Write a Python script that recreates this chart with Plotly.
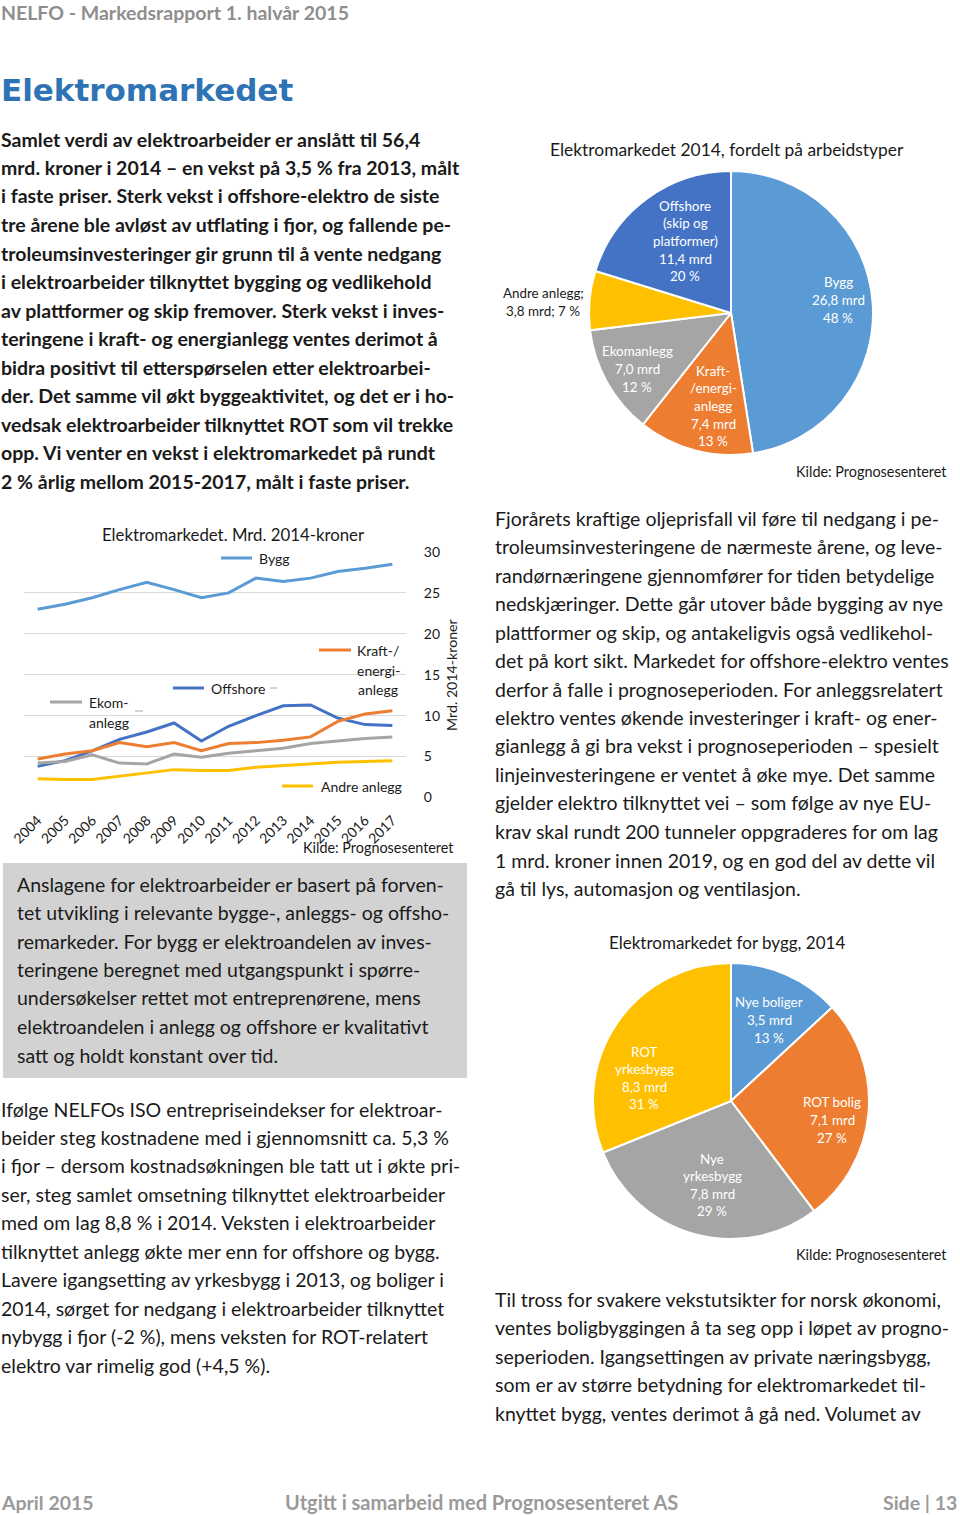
import plotly.graph_objects as go

W, H = 960, 1515
FONT = "Lato"
TXT = "#1a1a1a"

# ---------------- data ----------------
years = [str(y) for y in range(2004, 2018)]
bygg = [23.0, 23.6, 24.4, 25.4, 26.3, 25.4, 24.4, 25.0, 26.8, 26.4, 26.8, 27.6, 28.0, 28.5]
offshore = [3.8, 4.5, 5.7, 7.1, 8.0, 9.1, 6.9, 8.7, 10.0, 11.2, 11.3, 9.7, 8.9, 8.8]
kraft = [4.7, 5.3, 5.7, 6.7, 6.2, 6.7, 5.7, 6.6, 6.7, 7.0, 7.4, 9.3, 10.2, 10.6]
ekom = [4.2, 4.4, 5.2, 4.2, 4.1, 5.3, 4.9, 5.4, 5.7, 6.0, 6.6, 6.9, 7.2, 7.4]
andre = [2.3, 2.2, 2.2, 2.6, 3.0, 3.4, 3.3, 3.3, 3.7, 3.9, 4.1, 4.3, 4.4, 4.5]
y_ticks = [0, 5, 10, 15, 20, 25, 30]

pie1_labels = ["Bygg", "Kraft-/energi-anlegg", "Ekomanlegg", "Andre anlegg", "Offshore (skip og platformer)"]
pie1_values = [26.8, 7.4, 7.0, 3.8, 11.4]
pie1_pct = [48, 13, 12, 7, 20]

pie2_labels = ["Nye boliger", "ROT bolig", "Nye yrkesbygg", "ROT yrkesbygg"]
pie2_values = [3.5, 7.1, 7.8, 8.3]
pie2_pct = [13, 27, 29, 31]

C_BLUE = "#5B9BD5"
C_DBLUE = "#4472C4"
C_ORANGE = "#ED7D31"
C_GRAY = "#A5A5A5"
C_YELLOW = "#FFC000"

# ---------------- text ----------------
para_left_top = [
    "Samlet verdi av elektroarbeider er anslått til 56,4",
    "mrd. kroner i 2014 – en vekst på 3,5 % fra 2013, målt",
    "i faste priser. Sterk vekst i offshore-elektro de siste",
    "tre årene ble avløst av utflating i fjor, og fallende pe-",
    "troleumsinvesteringer gir grunn til å vente nedgang",
    "i elektroarbeider tilknyttet bygging og vedlikehold",
    "av plattformer og skip fremover. Sterk vekst i inves-",
    "teringene i kraft- og energianlegg ventes derimot å",
    "bidra positivt til etterspørselen etter elektroarbei-",
    "der. Det samme vil økt byggeaktivitet, og det er i ho-",
    "vedsak elektroarbeider tilknyttet ROT som vil trekke",
    "opp. Vi venter en vekst i elektromarkedet på rundt",
    "2 % årlig mellom 2015-2017, målt i faste priser.",
]
para_right_top = [
    "Fjorårets kraftige oljeprisfall vil føre til nedgang i pe-",
    "troleumsinvesteringene de nærmeste årene, og leve-",
    "randørnæringene gjennomfører for tiden betydelige",
    "nedskjæringer. Dette går utover både bygging av nye",
    "plattformer og skip, og antakeligvis også vedlikehol-",
    "det på kort sikt. Markedet for offshore-elektro ventes",
    "derfor å falle i prognoseperioden. For anleggsrelatert",
    "elektro ventes økende investeringer i kraft- og ener-",
    "gianlegg å gi bra vekst i prognoseperioden – spesielt",
    "linjeinvesteringene er ventet å øke mye. Det samme",
    "gjelder elektro tilknyttet vei – som følge av nye EU-",
    "krav skal rundt 200 tunneler oppgraderes for om lag",
    "1 mrd. kroner innen 2019, og en god del av dette vil",
    "gå til lys, automasjon og ventilasjon.",
]
para_box = [
    "Anslagene for elektroarbeider er basert på forven-",
    "tet utvikling i relevante bygge-, anleggs- og offsho-",
    "remarkeder. For bygg er elektroandelen av inves-",
    "teringene beregnet med utgangspunkt i spørre-",
    "undersøkelser rettet mot entreprenørene, mens",
    "elektroandelen i anlegg og offshore er kvalitativt",
    "satt og holdt konstant over tid.",
]
para_left_bot = [
    "Ifølge NELFOs ISO entrepriseindekser for elektroar-",
    "beider steg kostnadene med i gjennomsnitt ca. 5,3 %",
    "i fjor – dersom kostnadsøkningen ble tatt ut i økte pri-",
    "ser, steg samlet omsetning tilknyttet elektroarbeider",
    "med om lag 8,8 % i 2014. Veksten i elektroarbeider",
    "tilknyttet anlegg økte mer enn for offshore og bygg.",
    "Lavere igangsetting av yrkesbygg i 2013, og boliger i",
    "2014, sørget for nedgang i elektroarbeider tilknyttet",
    "nybygg i fjor (-2 %), mens veksten for ROT-relatert",
    "elektro var rimelig god (+4,5 %).",
]
para_right_bot = [
    "Til tross for svakere vekstutsikter for norsk økonomi,",
    "ventes boligbyggingen å ta seg opp i løpet av progno-",
    "seperioden. Igangsettingen av private næringsbygg,",
    "som er av større betydning for elektromarkedet til-",
    "knyttet bygg, ventes derimot å gå ned. Volumet av",
]


def px(x):
    return x / W


def py(y):
    return 1 - y / H


annotations = []
shapes = []


def text(x, y, s, size=19.5, color=TXT, xanchor="left", bold=False, family=FONT, align="left", textangle=0):
    dx = -1 if xanchor == "left" else (1 if xanchor == "right" else 0)
    annotations.append(dict(
        x=px(x + dx), y=py(y), xref="paper", yref="paper", text=s, showarrow=False,
        xanchor=xanchor, yanchor="middle", align=align, textangle=textangle,
        font=dict(family=family, size=size, color=color,
                  weight="bold" if bold else "normal"),
    ))


def paragraph(lines, x, y0, step, **kw):
    for i, s in enumerate(lines):
        text(x, y0 + i * step, s, **kw)


# header / footer
text(0, 12, "NELFO - Markedsrapport 1. halvår 2015", size=19.5, color="#8E8E8E", bold=True)
text(0, 90, "Elektromarkedet", size=31, color="#2E74B5", bold=True, family="DejaVu Sans")
text(0, 1502, "April 2015", size=19.5, color="#9A9A9A", bold=True)
text(481, 1502, "Utgitt i samarbeid med Prognosesenteret AS", size=20, color="#9A9A9A", bold=True, xanchor="center")
text(958, 1502, "Side | 13", size=19.5, color="#9A9A9A", bold=True, xanchor="right")

# paragraphs
paragraph(para_left_top, 0, 139, 28.5, size=19.5, bold=True)
paragraph(para_right_top, 494, 518, 28.5, size=19.5)
paragraph(para_left_bot, 0, 1109, 28.45, size=19.5)
paragraph(para_right_bot, 494, 1299, 28.5, size=19.5)

# gray box
shapes.append(dict(type="rect", xref="paper", yref="paper", x0=px(3), x1=px(467), y0=py(1078), y1=py(863),
                   fillcolor="#D2D2D2", line=dict(width=0), layer="below"))
paragraph(para_box, 16, 884, 28.5, size=19.5)

# ---------------- line chart ----------------
traces = []
for name, vals, col in [("Bygg", bygg, C_BLUE), ("Offshore", offshore, C_DBLUE),
                        ("Kraft-/energianlegg", kraft, C_ORANGE), ("Ekomanlegg", ekom, C_GRAY),
                        ("Andre anlegg", andre, C_YELLOW)]:
    traces.append(go.Scatter(x=years, y=vals, mode="lines", name=name,
                             line=dict(color=col, width=3), showlegend=False,
                             xaxis="x", yaxis="y"))

text(233, 535, "Elektromarkedet. Mrd. 2014-kroner", size=16.8, xanchor="center")
text(452, 675, "Mrd. 2014-kroner", size=14.2, xanchor="center", textangle=-90)
text(455, 847, "Kilde: Prognosesenteret", size=14.4, xanchor="right")

# series labels with swatches
def swatch(x0, x1, y, col):
    shapes.append(dict(type="line", xref="paper", yref="paper", x0=px(x0), x1=px(x1), y0=py(y), y1=py(y),
                       line=dict(color=col, width=3)))

swatch(221, 252, 558, C_BLUE)
text(258, 559, "Bygg", size=14)
swatch(173, 204, 688, C_DBLUE)
text(210, 688, "Offshore", size=14)
swatch(319, 351, 650, C_ORANGE)
text(378, 650, "Kraft-/", size=14, xanchor="center")
text(378, 670, "energi-", size=14, xanchor="center")
text(378, 689, "anlegg", size=14, xanchor="center")
swatch(50, 82, 702, C_GRAY)
text(88, 702, "Ekom-", size=14)
text(88, 722, "anlegg", size=14)
swatch(282, 313, 786, C_YELLOW)
text(320, 786, "Andre anlegg", size=14)

LEAD = "#A6A6A6"
def leader(idx, vals, ax, ay):
    annotations.append(dict(x=years[idx], y=vals[idx], xref="x", yref="y", text="", showarrow=True,
                            arrowhead=0, arrowwidth=1, arrowcolor=LEAD, ax=ax, ay=ay, standoff=0))

leader(8, bygg, -4, -9)
leader(9, offshore, -6, -18)
shapes.append(dict(type="line", xref="paper", yref="paper", x0=px(270), x1=px(277), y0=py(688), y1=py(688),
                   line=dict(color=LEAD, width=1)))
leader(12, kraft, -7, -14)
leader(4, ekom, -4, -53)
shapes.append(dict(type="line", xref="paper", yref="paper", x0=px(135), x1=px(143), y0=py(711), y1=py(711),
                   line=dict(color=LEAD, width=1)))
leader(10, andre, 30, 10)

# ---------------- pie 1 ----------------
traces.append(go.Pie(
    labels=pie1_labels, values=pie1_values, sort=False, direction="clockwise", rotation=0,
    marker=dict(colors=[C_BLUE, C_ORANGE, C_GRAY, C_YELLOW, C_DBLUE], line=dict(color="white", width=2)),
    textinfo="none", hoverinfo="label+value", showlegend=False,
    domain=dict(x=[px(589), px(873)], y=[py(455), py(171)]),
))
text(727, 150, "Elektromarkedet 2014, fordelt på arbeidstyper", size=17.4, xanchor="center")
text(948, 471, "Kilde: Prognosesenteret", size=14.4, xanchor="right")


def fmt(v):
    return f"{v:.1f}".replace(".", ",")


def pie_label(x, y, lines, color="white", size=13.4):
    n = len(lines)
    step = 17.6
    for i, s in enumerate(lines):
        text(x, y + (i - (n - 1) / 2) * step, s, size=size, color=color, xanchor="center")


pie_label(838, 300, ["Bygg", f"{fmt(pie1_values[0])} mrd", f"{pie1_pct[0]} %"])
pie_label(713, 406, ["Kraft-", "/energi-", "anlegg", f"{fmt(pie1_values[1])} mrd", f"{pie1_pct[1]} %"])
pie_label(637, 369, ["Ekomanlegg", f"{fmt(pie1_values[2])} mrd", f"{pie1_pct[2]} %"])
pie_label(543, 302, ["Andre anlegg;", f"{fmt(pie1_values[3])} mrd; {pie1_pct[3]} %"], color=TXT)
pie_label(685, 241, ["Offshore", "(skip og", "platformer)", f"{fmt(pie1_values[4])} mrd", f"{pie1_pct[4]} %"])

# ---------------- pie 2 ----------------
traces.append(go.Pie(
    labels=pie2_labels, values=pie2_values, sort=False, direction="clockwise", rotation=0,
    marker=dict(colors=[C_BLUE, C_ORANGE, C_GRAY, C_YELLOW], line=dict(color="white", width=2)),
    textinfo="none", hoverinfo="label+value", showlegend=False,
    domain=dict(x=[px(593), px(869)], y=[py(1239), py(963)]),
))
text(727, 943, "Elektromarkedet for bygg, 2014", size=17, xanchor="center")
text(948, 1254, "Kilde: Prognosesenteret", size=14.4, xanchor="right")
pie_label(769, 1020, ["Nye boliger", f"{fmt(pie2_values[0])} mrd", f"{pie2_pct[0]} %"])
pie_label(832, 1120, ["ROT bolig", f"{fmt(pie2_values[1])} mrd", f"{pie2_pct[1]} %"])
pie_label(712, 1185, ["Nye", "yrkesbygg", f"{fmt(pie2_values[2])} mrd", f"{pie2_pct[2]} %"])
pie_label(644, 1078, ["ROT", "yrkesbygg", f"{fmt(pie2_values[3])} mrd", f"{pie2_pct[3]} %"])

fig = go.Figure(traces)
fig.update_layout(
    width=W, height=H, margin=dict(l=0, r=0, t=0, b=0, pad=0, autoexpand=False),
    paper_bgcolor="white", plot_bgcolor="white",
    font=dict(family=FONT, color=TXT),
    annotations=annotations, shapes=shapes,
    xaxis=dict(domain=[px(24), px(406)], type="category", range=[-0.5, 13.5], showgrid=False,
               showline=False, zeroline=False, tickangle=-45, ticks="outside", ticklen=8, automargin=False,
               tickcolor="rgba(0,0,0,0)", tickfont=dict(size=14, color=TXT), fixedrange=True),
    yaxis=dict(domain=[py(797.7), py(551.7)], range=[-0.03, 30.03], side="right", tickvals=y_ticks,
               showgrid=True, gridcolor="#D9D9D9", gridwidth=1, zeroline=False, showline=False,
               automargin=False,
               ticks="outside", ticklen=14, tickcolor="rgba(0,0,0,0)", tickfont=dict(size=14, color=TXT),
               fixedrange=True),
)
post = (
    "document.documentElement.style.margin='0';document.body.style.margin='0';"
    "document.documentElement.style.overflow='hidden';document.body.style.overflow='hidden';"
    "var d=document.getElementById('{plot_id}');d.style.position='fixed';d.style.left='0px';d.style.top='0px';"
)
fig.write_html("out.html", post_script=post, config={"displayModeBar": False})
